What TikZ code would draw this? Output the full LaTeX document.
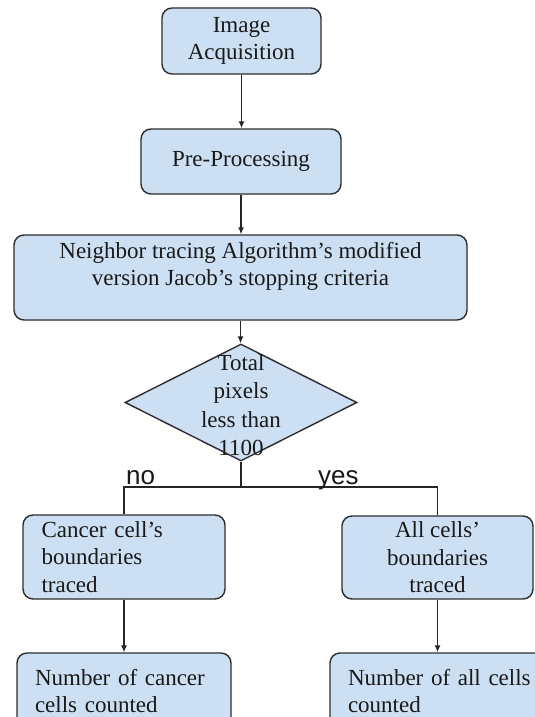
\documentclass[tikz,border=0pt]{standalone}
\usepackage{fontspec}
\setmainfont{Liberation Serif}
\newfontfamily\labelfont{Liberation Sans}
\usetikzlibrary{shapes.geometric,arrows.meta}
\definecolor{boxfill}{RGB}{205,224,243}
\definecolor{boxline}{RGB}{45,45,45}
\begin{document}
\begin{tikzpicture}[x=1pt,y=-1pt,
  box/.style={draw=boxline, line width=1.4pt, fill=boxfill, rounded corners=10pt, inner sep=0pt,
    font=\fontsize{23}{27.5}\selectfont, text=black!90},
  arr/.style={draw=black!85, line width=1.2pt, -{Latex[length=7pt,width=6pt]}},
  ln/.style={draw=black!85, line width=1.2pt},
  yn/.style={font=\labelfont\fontsize{26}{30}\selectfont, inner sep=0pt, anchor=base west, text=black!90}]
\fill[white] (0,0) rectangle (535,717);
\useasboundingbox (0,0) rectangle (535,717);

\node[box, minimum width=159pt, minimum height=66pt, align=center] (b1) at (241.5,41) {Image\\Acquisition};
\node[box, minimum width=200pt, minimum height=65pt] (b2) at (241,161.5) {Pre-Processing};
\node[box, minimum width=453pt, minimum height=85pt, align=center] (b3) at (240.5,277.5)
  {Neighbor tracing Algorithm’s modified\\version Jacob’s stopping criteria\\\mbox{}};

\node[diamond, draw=boxline, line width=1.4pt, fill=boxfill, minimum width=232pt, minimum height=117pt, inner sep=0pt] (d) at (241,402.5) {};
\node[font=\fontsize{23}{28.5}\selectfont, align=center, inner sep=0pt, text=black!90] (dt) at (241,405) {Total\\pixels\\less than\\1100};

\node[box, minimum width=202pt, minimum height=84pt, text width=165pt, align=left] (b4) at (124,557) {Cancer cell’s\\boundaries\\traced};
\node[box, minimum width=191pt, minimum height=83pt, align=center] (b5) at (437.5,557.5) {All cells’\\boundaries\\traced};

\node[box, minimum width=214pt, minimum height=76pt, text width=178pt, align=left] (b6) at (124,691) {Number of cancer\\cells counted};
\node[box, minimum width=226pt, minimum height=76pt, text width=190pt, align=left] (b7) at (443,691) {Number of all cells\\counted};

\coordinate (fork) at (241,487);

\draw[arr] (b1.south) -- (b1.south |- b2.north);
\draw[arr] (b2.south) -- (b2.south |- b3.north);
\draw[arr] (b3.south) -- (b3.south |- d.north);
\draw[ln] (d.south) -- (fork);
\draw[ln] (fork) -| (b4.north);
\draw[ln] (fork) -| (b5.north);
\draw[arr] (b4.south) -- (b4.south |- b6.north);
\draw[arr] (b5.south) -- (b5.south |- b7.north);

\node[yn] (no) at (126,484) {no};
\node[yn] (yes) at (318,484) {yes};
\end{tikzpicture}
\end{document}
